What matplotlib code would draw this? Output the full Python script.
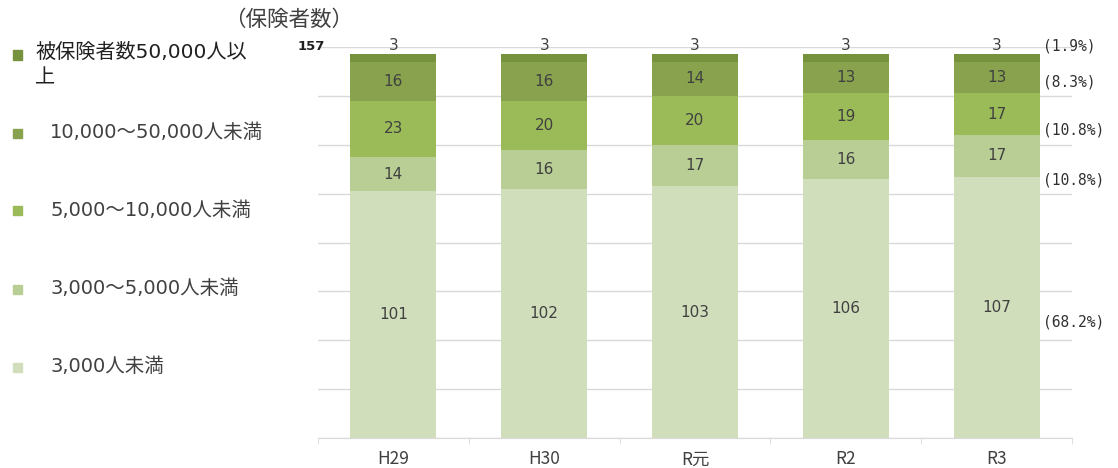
import numpy as np
import matplotlib.pyplot as plt
from matplotlib.patches import Rectangle

plt.rcParams['font.family'] = ['DejaVu Sans', 'Noto Sans CJK JP']

# Data (保険者数)
years = ['H29', 'H30', 'R元', 'R2', 'R3']
under_3000 = [101, 102, 103, 106, 107]
from_3000_5000 = [14, 16, 17, 16, 17]
from_5000_10000 = [23, 20, 20, 19, 17]
from_10000_50000 = [16, 16, 14, 13, 13]
over_50000 = [3, 3, 3, 3, 3]

series_names = ['3,000人未満', '3,000～5,000人未満', '5,000～10,000人未満',
                '10,000～50,000人未満', '被保険者数50,000人以\n上']
series_values = [under_3000, from_3000_5000, from_5000_10000, from_10000_50000, over_50000]
colors = ['#D1DEBC', '#B9CE95', '#9BBB59', '#88A24D', '#76923C']

text_color = '#404040'
grid_color = '#D9D9D9'
cjk = ['Noto Sans CJK JP', 'DejaVu Sans']

fig = plt.figure(figsize=(11.18, 4.68), dpi=100)
ax = fig.add_axes([318 / 1118, 1 - 438 / 468, 754 / 1118, 391 / 468])

x = np.arange(len(years))
bottom = np.zeros(len(years))
for vals, col in zip(series_values, colors):
    vals = np.array(vals)
    ax.bar(x, vals, 0.57, bottom=bottom, color=col, zorder=2)
    if col != colors[-1]:
        for xi, b, v in zip(x, bottom, vals):
            ax.text(xi, b + v / 2, str(v), ha='center', va='center',
                    fontsize=11, color=text_color, zorder=3)
    bottom = bottom + vals

# top segment labels sit above the bar
for xi, tot, v in zip(x, bottom, over_50000):
    ax.text(xi, tot + 3.8, str(v), ha='center', va='center',
            fontsize=11, color=text_color)

ax.set_xlim(-0.5, len(years) - 0.5)
ax.set_ylim(0, 160)
ax.set_yticks(np.arange(0, 161, 20))
ax.set_yticklabels([])
ax.tick_params(axis='y', length=0)
ax.grid(axis='y', color=grid_color, linewidth=1, zorder=0)
for s in ['left', 'right', 'top']:
    ax.spines[s].set_visible(False)
ax.spines['bottom'].set_color(grid_color)

ax.set_xticks(x)
ax.set_xticklabels(years, fontsize=12.5, color=text_color, family=cjk)
ax.set_xticks(np.arange(-0.5, len(years), 1), minor=True)
ax.tick_params(axis='x', which='major', length=0, pad=9)
ax.tick_params(axis='x', which='minor', length=4, color=grid_color)

# share labels for the latest year
total = bottom[-1]
last_vals = [s[-1] for s in series_values]
centers = np.cumsum(last_vals) - np.array(last_vals) / 2
nudge = [-6, -10, -6.5, -2, 5]
for v, c, n in zip(last_vals, centers, nudge):
    ax.text(4.31, c + n, '({:.1f}%)'.format(v / total * 100), ha='left', va='center',
            fontsize=10.5, color='#303030', family='DejaVu Sans Mono', clip_on=False)

ax.text(0.009, 160, '157', transform=ax.get_yaxis_transform(), ha='right', va='center',
        fontsize=9.5, fontweight='bold', color='#202020')

fig.text(289 / 1118, 1 - 20 / 468, '（保険者数）', ha='center', va='center',
         fontsize=15.5, color=text_color, family=cjk)

# legend (top entry first)
for i, (name, col) in enumerate(zip(series_names[::-1], colors[::-1])):
    y_px = 55 + 78 * i
    fig.patches.append(Rectangle((13 / 1118, 1 - (y_px + 4.5) / 468), 9 / 1118, 9 / 468,
                                 transform=fig.transFigure, color=col))
    if i == 0:
        fig.text(35 / 1118, 1 - (y_px - 12) / 468, name, ha='left', va='top',
                 fontsize=14.5, color='#202020', linespacing=1.4)
    else:
        fig.text(50 / 1118, 1 - y_px / 468, name, ha='left', va='center',
                 fontsize=14, color=text_color)

fig.savefig('out.png', dpi=100)
